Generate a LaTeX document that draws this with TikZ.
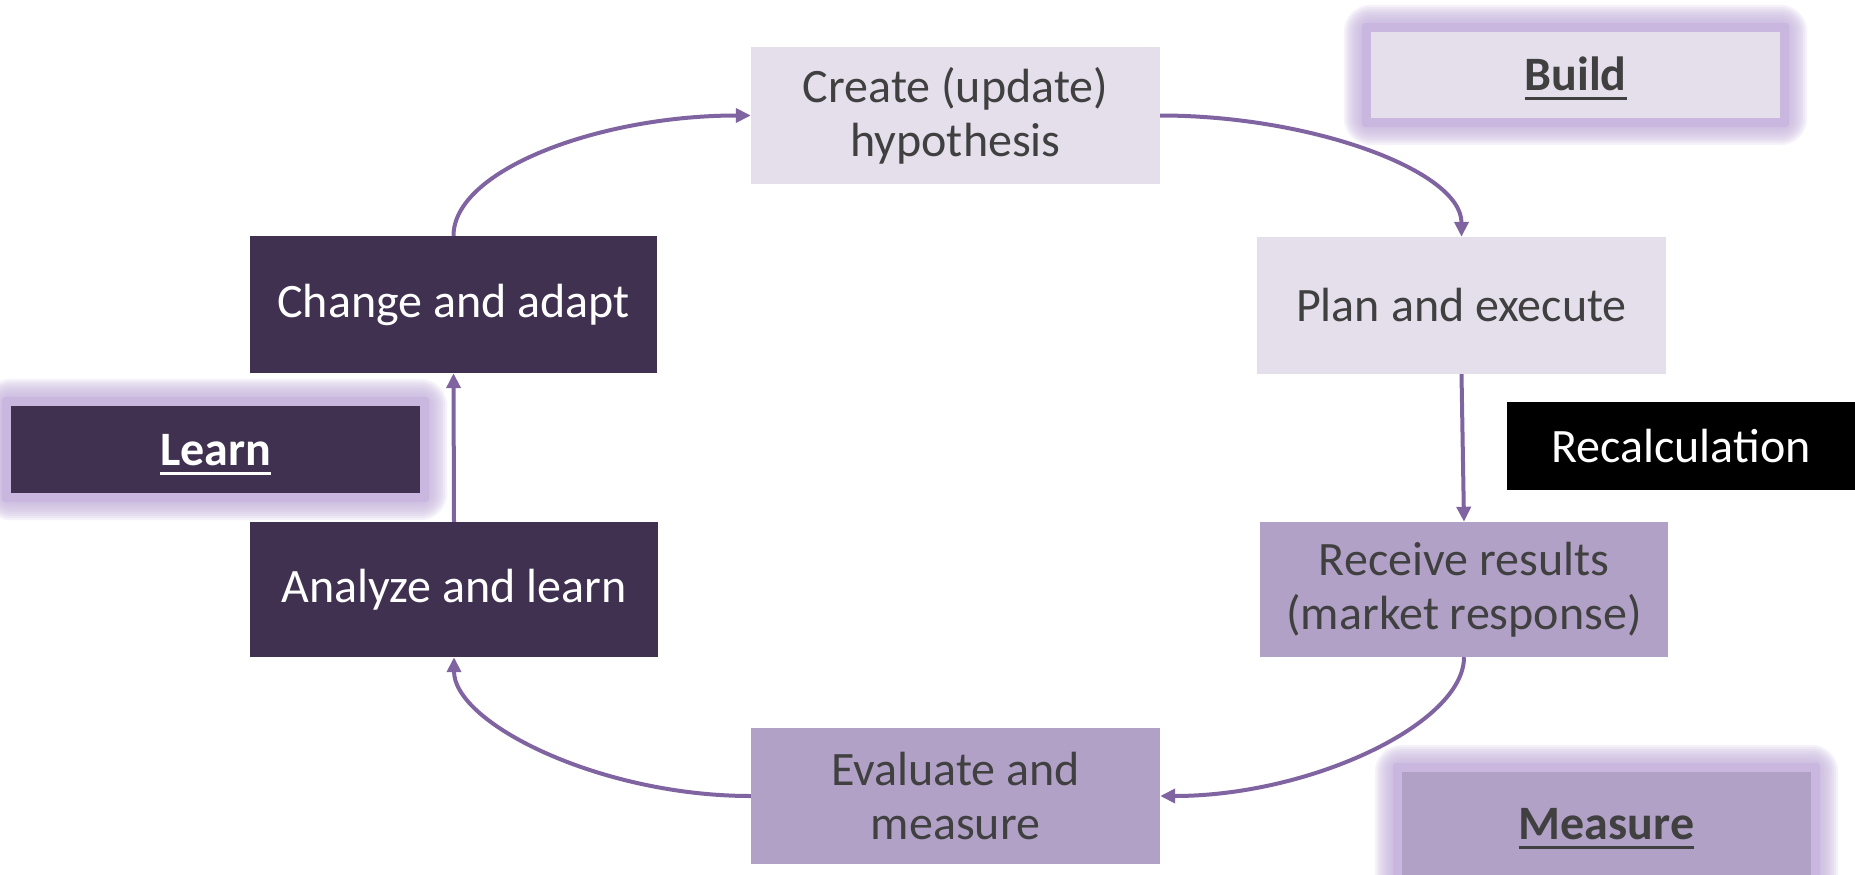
\documentclass[tikz,border=0pt]{standalone}
\usepackage{fontspec}
\setmainfont{Carlito}
\usetikzlibrary{arrows.meta,backgrounds}
\definecolor{lightc}{HTML}{E5DFEC}
\definecolor{medc}{HTML}{B2A1C7}
\definecolor{darkc}{HTML}{403151}
\definecolor{arrowc}{HTML}{8064A2}
\definecolor{glowc}{HTML}{C9B7E0}
\definecolor{textc}{HTML}{404040}
\newcommand\myul[1]{\setbox0\hbox{#1}\rlap{\vrule height -6.5pt depth 9.5pt width \wd0}\box0}
\tikzset{
  boxbase/.style={rectangle, inner sep=0pt, align=center, font=\fontsize{48}{54}\selectfont},
  lightbox/.style={boxbase, fill=lightc, text=textc},
  medbox/.style={boxbase, fill=medc, text=textc},
  darkbox/.style={boxbase, fill=darkc, text=white},
  phasebox/.style={font=\fontsize{48}{52}\selectfont\bfseries, text height=42pt, text depth=10pt},
  flow/.style={draw=arrowc, line width=4pt, -{Triangle[width=14pt,length=15pt]}},
}
\newcommand\glowbox[1]{%
  \fill[glowc, rounded corners=4pt] ([shift={(-9,-9)}]#1.north west) rectangle ([shift={(9,9)}]#1.south east);
  \foreach \r in {11,13,15,17,19,21,23,25,27}{%
    \fill[glowc, opacity=0.17, rounded corners=\r pt] ([shift={(-\r,-\r)}]#1.north west) rectangle ([shift={(\r,\r)}]#1.south east);
  }%
}
\begin{document}
\begin{tikzpicture}[x=1pt,y=-1pt]
\useasboundingbox (0,0) rectangle (1855,875);

\node[lightbox, minimum width=409pt, minimum height=137pt] (create) at (955.5,115.5) {Create (update)\\hypothesis};
\node[lightbox, minimum width=409pt, minimum height=137pt] (plan) at (1461.5,305.5) {Plan and execute};
\node[medbox, minimum width=408pt, minimum height=135pt] (receive) at (1464,589.5) {Receive results\\(market response)};
\node[medbox, minimum width=409pt, minimum height=136pt] (evaluate) at (955.5,796) {Evaluate and\\measure};
\node[darkbox, minimum width=408pt, minimum height=135pt] (analyze) at (454,589.5) {Analyze and learn};
\node[darkbox, minimum width=407pt, minimum height=137pt] (change) at (453.5,304.5) {Change and adapt};

\node[lightbox, phasebox, minimum width=409pt, minimum height=86pt] (build) at (1575.5,75) {\myul{Build}};
\node[darkbox, phasebox, minimum width=409pt, minimum height=87pt] (learn) at (215.5,449.5) {\myul{Learn}};
\node[medbox, phasebox, minimum width=409pt, minimum height=103pt] (measure) at (1606.5,823.5) {\myul{Measure}};
\node[boxbase, fill=black, text=white, font=\fontsize{48}{52}\selectfont, minimum width=348pt, minimum height=88pt] (recalc) at (1681,446) {Recalculation};

\begin{scope}[on background layer]
  \fill[white] (0,0) rectangle (1855,875);
  \glowbox{build}
  \glowbox{learn}
  \glowbox{measure}
\end{scope}

\draw[flow] (change.north) .. controls +(0,-66) and +(-151,0) .. (create.west);
\draw[flow] (create.east) .. controls +(151,0) and +(0,-66) .. (plan.north);
\draw[flow] (plan.south) -- (receive.north);
\draw[flow] (receive.south) .. controls +(0,66) and +(151,0) .. (evaluate.east);
\draw[flow] (evaluate.west) .. controls +(-151,0) and +(0,66) .. (analyze.south);
\draw[flow] (analyze.north) -- (change.south);
\end{tikzpicture}
\end{document}
